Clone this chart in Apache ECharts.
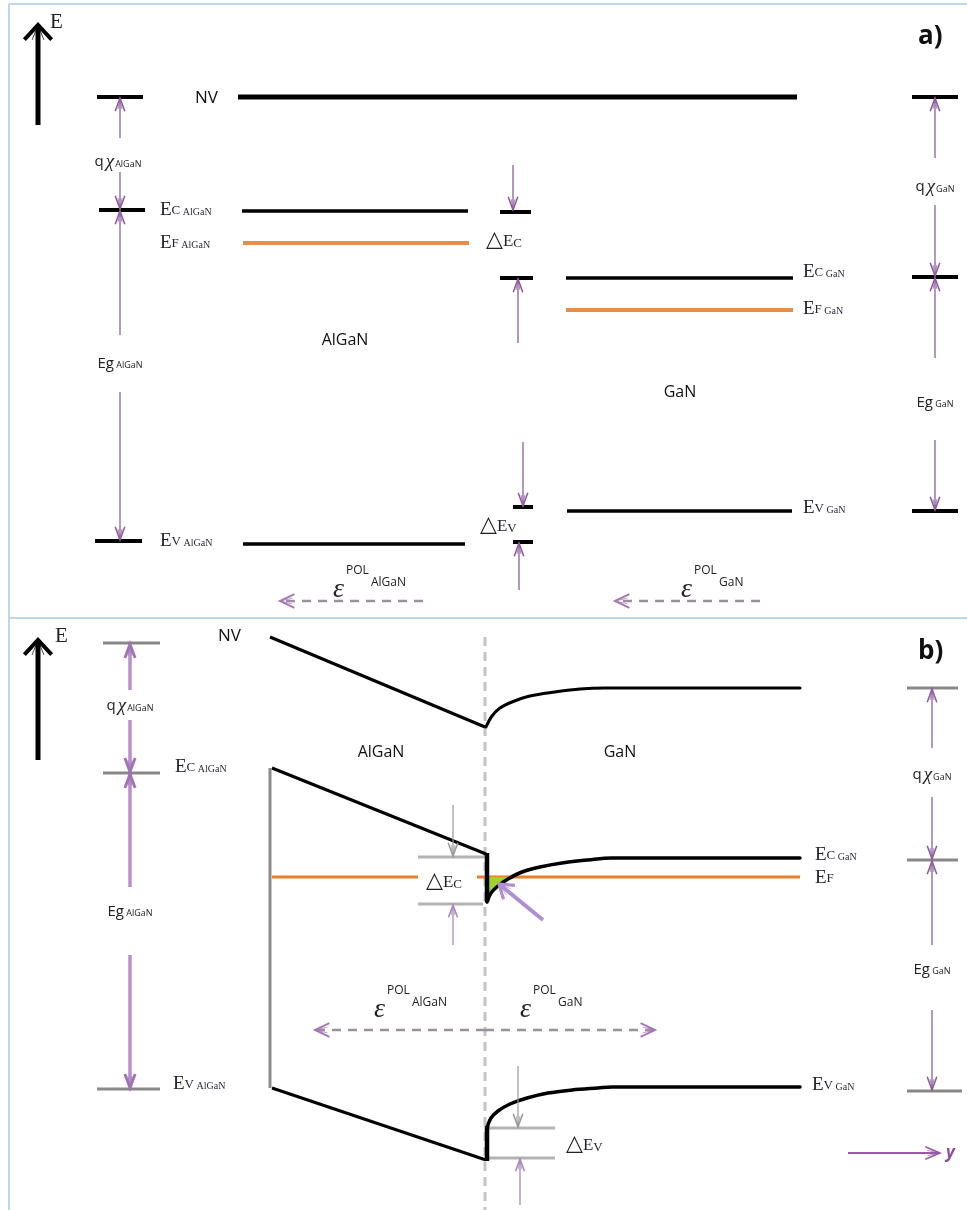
<!DOCTYPE html>
<html><head><meta charset="utf-8">
<script src="https://cdn.jsdelivr.net/npm/echarts@6/dist/echarts.min.js"></script>
<style>html,body{margin:0;padding:0;background:#fff}#c{width:967px;height:1210px}</style>
</head><body><div id="c"></div>
<script>
// ---------- data (diagram coordinates: x = position, y = energy scale, downward) ----------
const frameLines = [[9,4,967,4],[9,4,9,1210],[9,618,967,618]];
// panel a
const aVacuum = [[238,97,797,97]];
const aMarkers = [[97,97,143,97],[99,210,145,210],[95,541,142,541],[912,97,958,97],[912,277,958,277],[912,511,958,511],
  [500,212,531,212],[500,278,533,278],[513,507,533,507],[513,542,533,542]];
const aBands = [[242,211,468,211],[566,278,793,278],[243,544,465,544],[567,511,792,511]];
const aFermi = [[243,243,469,243],[566,310,793,310]];
// panel b
const bMarkers = [[103,643,160,643],[103,773,160,773],[97,1089,160,1089],[907,688,958,688],[907,860,958,860],[907,1091,962,1091]];
const bOffsetBars = [[418,857,485,857],[418,904,483,904],[487,1128,555,1128],[487,1158,555,1158]];
const bGapLine = [[270,768,270,1088]];
const bInterface = [[485,637,485,1210]];
const bSlopes = [[270,637,485,727],[272,768,486,854],[272,1088,486,1160]];
const bSteps = [[487,853,487,902],[487,1161,487,1126]];
const bFermi = [[272,877,418,877],[477,877,800,877]];
const bVacuumCurve = [[486,727],[492,716],[500,708],[512,702],[530,696],[555,692],[580,689],[605,688],[800,688]];
const bCondCurve = [[487,902],[491,893],[498,886],[508,879],[522,872],[540,867],[562,863],[588,860],[612,858],[800,858]];
const bValCurve = [[487,1128],[491,1118],[498,1111],[510,1104],[527,1098],[548,1093],[572,1090],[598,1088],[612,1087],[800,1087]];
const b2deg = [[489,877],[513,877],[506,880],[499,886],[493,892],[489,897]];
// arrows: tail x, tail y, tip x, tip y
const axisArrows = [[38,125,38,25],[38,760,38,640]];
const thinArrows = [[120,138,120,98],[120,172,120,209],[120,335,120,211],[120,392,120,540],
  [513,165,513,210],[518,343,518,279],[523,442,523,506],[519,590,519,543],
  [935,158,935,98],[935,205,935,276],[935,358,935,278],[935,440,935,510],
  [932,748,932,689],[932,797,932,859],[932,945,932,861],[932,1010,932,1090]];
const thickArrows = [[130,690,130,644],[130,720,130,772],[130,887,130,774],[130,955,130,1088]];
const grayArrows = [[453,805,453,856],[518,1066,518,1127]];
const upArrowsB = [[453,945,453,905],[520,1205,520,1159]];
const bigArrow = [[543,920,499,884]];
const fieldArrows = [[423,601,280,601],[760,601,615,601],[485,1030,315,1030],[485,1030,655,1030]];
const yArrow = [[848,1153,940,1153]];
// text
const levelLabels = [[160,210,'E','C','AlGaN'],[160,243,'E','F','AlGaN'],[160,541,'E','V','AlGaN'],
  [803,272,'E','C','GaN'],[803,309,'E','F','GaN'],[803,508,'E','V','GaN'],
  [175,767,'E','C','AlGaN'],[815,855,'E','C','GaN'],[815,878,'E','F',''],[173,1084,'E','V','AlGaN'],[812,1085,'E','V','GaN']];
const deltaLabels = [[486,240,'C'],[480,525,'V'],[426,881,'C'],[566,1144,'V']];
const chiLabels = [[118,162,'AlGaN'],[935,187,'GaN'],[130,706,'AlGaN'],[932,775,'GaN']];
const egLabels = [[120,364,'AlGaN'],[935,403,'GaN'],[130,912,'AlGaN'],[932,970,'GaN']];
const materialLabels = [[345,340,'AlGaN'],[680,392,'GaN'],[381,752,'AlGaN'],[620,752,'GaN']];
const nvLabels = [[195,98,'NV'],[218,636,'NV']];
const panelTags = [[918,37,'a)'],[918,652,'b)']];
const axisLabels = [[50,22,'E'],[55,636,'E']];
const epsLabels = [[333,590,'AlGaN'],[681,590,'GaN'],[374,1010,'AlGaN'],[520,1010,'GaN']];
const yLabels = [[946,1153,'y']];

// ---------- rendering ----------
const SERIF = '"Liberation Serif","DejaVu Serif",serif';
const SANS = '"Open Sans","Liberation Sans",sans-serif';
const series = [];
let zc = 1;
function segSeries(data, color, width, dash) {
  series.push({type:'custom', coordinateSystem:'cartesian2d', clip:false, silent:true, z: zc++, data,
    renderItem(params, api) {
      const p0 = api.coord([api.value(0), api.value(1)]);
      const p1 = api.coord([api.value(2), api.value(3)]);
      return {type:'line', shape:{x1:p0[0],y1:p0[1],x2:p1[0],y2:p1[1]},
        style:{stroke:color, lineWidth:width, lineDash:dash||null, lineCap:'butt'}};
    }});
}
function arrowSeries(data, color, width, head, ang, dash, headColor) {
  series.push({type:'custom', coordinateSystem:'cartesian2d', clip:false, silent:true, z: zc++, data,
    renderItem(params, api) {
      const p0 = api.coord([api.value(0), api.value(1)]);
      const p1 = api.coord([api.value(2), api.value(3)]);
      const a = Math.atan2(p1[1]-p0[1], p1[0]-p0[0]);
      const w1 = [p1[0]-head*Math.cos(a-ang), p1[1]-head*Math.sin(a-ang)];
      const w2 = [p1[0]-head*Math.cos(a+ang), p1[1]-head*Math.sin(a+ang)];
      const w3 = [p1[0]-head*0.8*Math.cos(a-ang*0.5), p1[1]-head*0.8*Math.sin(a-ang*0.5)];
      const w4 = [p1[0]-head*0.8*Math.cos(a+ang*0.5), p1[1]-head*0.8*Math.sin(a+ang*0.5)];
      const hc = headColor || color;
      return {type:'group', children:[
        {type:'line', shape:{x1:p0[0],y1:p0[1],x2:p1[0],y2:p1[1]}, style:{stroke:color, lineWidth:width, lineDash:dash||null}},
        {type:'polyline', shape:{points:[w1,p1,w2]}, style:{stroke:hc, lineWidth:Math.max(1.5,width*0.8), fill:null, lineJoin:'miter'}},
        {type:'polyline', shape:{points:[w3,p1,w4]}, style:{stroke:hc, lineWidth:1, fill:null, opacity:0.7}}
      ]};
    }});
}
function curveSeries(data, color, width) {
  series.push({type:'line', data, smooth:0.35, showSymbol:false, silent:true, z: zc++, clip:false,
    lineStyle:{color, width, cap:'round'}});
}
function textSeries(data, makeStyle) {
  series.push({type:'custom', coordinateSystem:'cartesian2d', clip:false, silent:true, z: zc++,
    data: data.map(d => [d[0], d[1]]),
    renderItem(params, api) {
      const p = api.coord([api.value(0), api.value(1)]);
      const el = makeStyle(data[params.dataIndex], p);
      return el;
    }});
}

// frame
segSeries(frameLines, '#bcd6ec', 2);
// panel b guide lines
segSeries(bInterface, '#c4c4c4', 3, [9,6]);
segSeries(bGapLine, '#8c8c8c', 3);
segSeries(bOffsetBars, '#b3b3b3', 3);
// fermi levels
segSeries(aFermi, '#ea8c45', 4);
segSeries(bFermi, '#ea7f2c', 3);
// 2DEG fill
series.push({type:'custom', coordinateSystem:'cartesian2d', clip:false, silent:true, z: zc++, data: b2deg,
  renderItem(params, api) {
    if (params.dataIndex !== 0) return null;
    return {type:'polygon', shape:{points: b2deg.map(p => api.coord(p))}, style:{fill:'#9fd22a'}};
  }});
// panel a levels
segSeries(aVacuum, '#000', 5);
segSeries(aBands, '#000', 3.5);
segSeries(aMarkers, '#000', 4);
// panel b bands
segSeries(bMarkers, '#888', 3);
segSeries(bSlopes, '#000', 3);
segSeries(bSteps, '#000', 4.5);
curveSeries(bVacuumCurve, '#000', 3);
curveSeries(bCondCurve, '#000', 3.5);
curveSeries(bValCurve, '#000', 3.5);
// arrows
arrowSeries(axisArrows, '#000', 5, 20, 0.75);
arrowSeries(thinArrows, '#a07fae', 1.6, 14, 0.35, null, '#8e5a9e');
arrowSeries(thickArrows, '#b88fcc', 3.5, 15, 0.35, null, '#9e74b4');
arrowSeries(grayArrows, '#999', 1.2, 14, 0.35);
arrowSeries(upArrowsB, '#b8a0c8', 1.6, 13, 0.35, null, '#a786bd');
arrowSeries(bigArrow, '#ae8fcf', 4, 16, 0.6);
arrowSeries(fieldArrows, '#9c8f9e', 2.5, 16, 0.45, [9,7], '#a778b8');
arrowSeries(yArrow, '#9a5aa6', 2, 16, 0.4);

// texts
textSeries(levelLabels, (d, p) => ({type:'text', x:p[0], y:p[1], style:{
  text: '{E|' + d[2] + '}{c|' + d[3] + '}' + (d[4] ? '{s| ' + d[4] + '}' : ''),
  align:'left', verticalAlign:'middle',
  rich:{E:{fontFamily:SERIF, fontSize:19, fill:'#222233', lineHeight:20},
        c:{fontFamily:SERIF, fontSize:13, fill:'#222233', verticalAlign:'bottom', padding:[0,0,3,0]},
        s:{fontFamily:SERIF, fontSize:10, fill:'#2a2a40', verticalAlign:'bottom', padding:[0,0,3,0]}}}}));
textSeries(deltaLabels, (d, p) => ({type:'text', x:p[0], y:p[1], style:{
  text: '{t|△}{E|E}{c|' + d[2] + '}', align:'left', verticalAlign:'middle',
  rich:{t:{fontFamily:'"DejaVu Sans",sans-serif', fontSize:22, fill:'#222', lineHeight:24},
        E:{fontFamily:SERIF, fontSize:17, fill:'#222233', verticalAlign:'bottom', padding:[0,0,2,0]},
        c:{fontFamily:SERIF, fontSize:13, fill:'#222233', verticalAlign:'bottom', padding:[0,0,2,0]}}}}));
textSeries(chiLabels, (d, p) => ({type:'text', x:p[0], y:p[1], style:{
  text: '{q|q}{x|χ}{s|' + d[2] + '}', align:'center', verticalAlign:'middle',
  rich:{q:{fontFamily:SANS, fontSize:15, fill:'#222', lineHeight:20},
        x:{fontFamily:SERIF, fontStyle:'italic', fontSize:19, fill:'#222', padding:[0,1,0,2]},
        s:{fontFamily:SANS, fontSize:9, fill:'#222', verticalAlign:'bottom', padding:[0,0,3,0]}}}}));
textSeries(egLabels, (d, p) => ({type:'text', x:p[0], y:p[1], style:{
  text: '{m|Eg}{s| ' + d[2] + '}', align:'center', verticalAlign:'middle',
  rich:{m:{fontFamily:SANS, fontSize:15, fill:'#222', lineHeight:20},
        s:{fontFamily:SANS, fontSize:9, fill:'#222', verticalAlign:'bottom', padding:[0,0,4,0]}}}}));
textSeries(materialLabels, (d, p) => ({type:'text', x:p[0], y:p[1], style:{
  text: d[2], align:'center', verticalAlign:'middle', fontFamily:SANS, fontSize:16, fill:'#111'}}));
textSeries(nvLabels, (d, p) => ({type:'text', x:p[0], y:p[1], style:{
  text: d[2], align:'left', verticalAlign:'middle', fontFamily:SANS, fontSize:17, fill:'#111'}}));
textSeries(panelTags, (d, p) => ({type:'text', x:p[0], y:p[1], style:{
  text: d[2], align:'left', verticalAlign:'middle', fontFamily:SANS, fontWeight:'bold', fontSize:26, fill:'#111'}}));
textSeries(axisLabels, (d, p) => ({type:'text', x:p[0], y:p[1], style:{
  text: d[2], align:'left', verticalAlign:'middle', fontFamily:SERIF, fontSize:21, fill:'#222'}}));
textSeries(epsLabels, (d, p) => ({type:'group', children:[
  {type:'text', x:p[0], y:p[1], style:{text:'ε', align:'left', verticalAlign:'middle', fontFamily:SERIF, fontStyle:'italic', fontSize:28, fill:'#222'}},
  {type:'text', x:p[0]+13, y:p[1]-19, style:{text:'POL', align:'left', verticalAlign:'middle', fontFamily:SANS, fontSize:12, fill:'#222'}},
  {type:'text', x:p[0]+38, y:p[1]-7, style:{text:d[2], align:'left', verticalAlign:'middle', fontFamily:SANS, fontSize:12, fill:'#222'}}
]}));
textSeries(yLabels, (d, p) => ({type:'text', x:p[0], y:p[1], style:{
  text: d[2], align:'left', verticalAlign:'middle', fontFamily:SANS, fontStyle:'italic', fontWeight:'bold', fontSize:17, fill:'#8a4f9a'}}));

const chart = echarts.init(document.getElementById('c'), null, {renderer:'canvas'});
chart.setOption({
  animation:false,
  backgroundColor:'#fff',
  grid:{left:0, right:0, top:0, bottom:0},
  xAxis:{type:'value', min:0, max:967, show:false},
  yAxis:{type:'value', min:0, max:1210, inverse:true, show:false},
  series
});
</script></body></html>
